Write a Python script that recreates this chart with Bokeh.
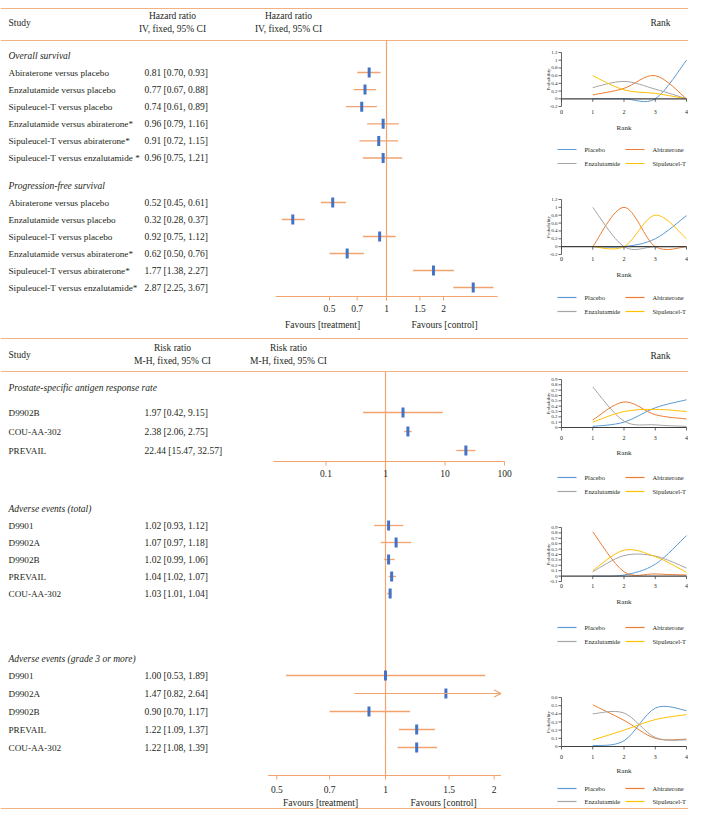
import math
from bokeh.plotting import figure
from bokeh.models import Range1d, LogScale, Arrow, OpenHead
from bokeh.core.properties import value
from bokeh.embed import file_html
from bokeh.resources import INLINE

# ------------------------------------------------------------------ data
os_labels = ["Abiraterone versus placebo", "Enzalutamide versus placebo", "Sipuleucel-T versus placebo",
             "Enzalutamide versus abiraterone*", "Sipuleucel-T versus abiraterone*",
             "Sipuleucel-T versus enzalutamide *"]
os_est = [0.81, 0.77, 0.74, 0.96, 0.91, 0.96]
os_lo = [0.70, 0.67, 0.61, 0.79, 0.72, 0.75]
os_hi = [0.93, 0.88, 0.89, 1.16, 1.15, 1.21]

pfs_labels = ["Abiraterone versus placebo", "Enzalutamide versus placebo", "Sipuleucel-T versus placebo",
              "Enzalutamide versus abiraterone*", "Sipuleucel-T versus abiraterone*",
              "Sipuleucel-T versus enzalutamide*"]
pfs_est = [0.52, 0.32, 0.92, 0.62, 1.77, 2.87]
pfs_lo = [0.45, 0.28, 0.75, 0.50, 1.38, 2.25]
pfs_hi = [0.61, 0.37, 1.12, 0.76, 2.27, 3.67]

psa_labels = ["D9902B", "COU-AA-302", "PREVAIL"]
psa_est = [1.97, 2.38, 22.44]
psa_lo = [0.42, 2.06, 15.47]
psa_hi = [9.15, 2.75, 32.57]

ae_labels = ["D9901", "D9902A", "D9902B", "PREVAIL", "COU-AA-302"]
ae_est = [1.02, 1.07, 1.02, 1.04, 1.03]
ae_lo = [0.93, 0.97, 0.99, 1.02, 1.01]
ae_hi = [1.12, 1.18, 1.06, 1.07, 1.04]

ae3_labels = ["D9901", "D9902A", "D9902B", "PREVAIL", "COU-AA-302"]
ae3_est = [1.00, 1.47, 0.90, 1.22, 1.22]
ae3_lo = [0.53, 0.82, 0.70, 1.09, 1.08]
ae3_hi = [1.89, 2.64, 1.17, 1.37, 1.39]

hr_ticks = [0.5, 0.7, 1, 1.5, 2]
psa_ticks = [0.1, 1, 10, 100]
ae_ticks = [0.5, 0.7, 1, 1.5, 2]

treatments = ["Placebo", "Abiraterone", "Enzalutamide", "Sipuleucel-T"]
ranks = [1, 2, 3, 4]
rank_axis_x = [0, 1, 2, 3, 4]

# rank probabilities: rows = Placebo, Abiraterone, Enzalutamide, Sipuleucel-T
rank_os = [[0.0, 0.0, 0.0, 1.0], [0.10, 0.27, 0.60, 0.0], [0.29, 0.45, 0.25, 0.0], [0.60, 0.23, 0.14, 0.0]]
rank_pfs = [[0.0, 0.0, 0.20, 0.79], [0.0, 1.0, 0.0, 0.0], [1.0, 0.0, 0.0, 0.0], [0.0, 0.0, 0.80, 0.20]]
rank_psa = [[0.02, 0.10, 0.37, 0.52], [0.14, 0.48, 0.24, 0.16], [0.76, 0.12, 0.05, 0.02], [0.10, 0.30, 0.34, 0.30]]
rank_ae = [[0.0, 0.02, 0.22, 0.75], [0.82, 0.08, 0.04, 0.02], [0.08, 0.38, 0.37, 0.15], [0.10, 0.48, 0.36, 0.07]]
rank_ae3 = [[0.01, 0.07, 0.47, 0.44], [0.51, 0.32, 0.10, 0.09], [0.40, 0.41, 0.11, 0.08], [0.08, 0.20, 0.33, 0.39]]

yt_os = [-0.2, 0, 0.2, 0.4, 0.6, 0.8, 1, 1.2]
yt_pfs = [-0.2, 0, 0.2, 0.4, 0.6, 0.8, 1, 1.2]
yt_psa = [0, 0.1, 0.2, 0.3, 0.4, 0.5, 0.6, 0.7, 0.8, 0.9]
yt_ae = [-0.1, 0, 0.1, 0.2, 0.3, 0.4, 0.5, 0.6, 0.7, 0.8, 0.9]
yt_ae3 = [0, 0.1, 0.2, 0.3, 0.4, 0.5, 0.6]

# ------------------------------------------------------------------ style
SERIF = value("Liberation Serif")
FS = "9.5px"
FS_LAB = "9.2px"
ORANGE = "#F2A36E"
SEP = "#F4B183"
BLUE = "#4472C4"
TXT = "#231F20"
SERIES_COL = ["#5B9BD5", "#ED7D31", "#A5A5A5", "#FFC000"]
AX = "#404040"

X0, X1, Y0, Y1 = 0, 688, 0, 809
p = figure(width=X1 - X0, height=Y1 - Y0, x_range=Range1d(X0, X1), y_range=Range1d(Y1, Y0),
           output_backend="svg", toolbar_location=None, x_axis_location=None, y_axis_location=None,
           min_border=0, min_border_left=0, min_border_right=0, min_border_top=0, min_border_bottom=0)
p.grid.visible = False
p.outline_line_color = None
p.background_fill_color = "white"


def txt(x, y, s, size=FS, align="left", style="normal", **kw):
    xs = x if isinstance(x, list) else [x]
    ys = y if isinstance(y, list) else [y]
    ss = s if isinstance(s, list) else [s]
    p.text(x=xs, y=ys, text=ss, text_font=SERIF, text_font_size=size, text_align=align,
           text_baseline="middle", text_color=TXT, text_font_style=style, **kw)


def add_log_range(name, one_px, ppd):
    p.extra_x_ranges[name] = Range1d(10 ** (-(one_px - X0) / ppd), 10 ** ((X1 - one_px) / ppd))
    p.extra_x_scales[name] = LogScale()


def forest(name, labels, est, lo, hi, ys, amax):
    n = len(labels)
    txt([8] * n, ys, labels, size=FS_LAB)
    txt([144] * n, ys, [f"{e:.2f} [{l:.2f}, {h:.2f}]" for e, l, h in zip(est, lo, hi)])
    for l, h, y in zip(lo, hi, ys):
        if h > amax:
            p.add_layout(Arrow(end=OpenHead(size=7, line_color=ORANGE, line_width=1.2),
                               x_start=l, x_end=amax, y_start=y, y_end=y, x_range_name=name,
                               line_color=ORANGE, line_width=1.2))
        else:
            p.segment(x0=[l], x1=[h], y0=[y], y1=[y], x_range_name=name, line_color=ORANGE, line_width=1.3)
    p.rect(x=est, y=ys, width=3, height=10, width_units="screen", height_units="screen",
           x_range_name=name, fill_color=BLUE, line_color=None)


def forest_axis(name, amin, amax, ticks, y, labels_y):
    p.segment(x0=[amin], x1=[amax], y0=[y], y1=[y], x_range_name=name, line_color=ORANGE, line_width=1.2)
    p.segment(x0=ticks, x1=ticks, y0=[y] * len(ticks), y1=[y + 4] * len(ticks), x_range_name=name,
              line_color=ORANGE, line_width=1)
    p.text(x=ticks, y=[labels_y] * len(ticks), text=[f"{t:g}" for t in ticks], x_range_name=name,
           text_font=SERIF, text_font_size=FS, text_align="center", text_baseline="middle", text_color=TXT)


RX0, RX4 = 561, 686   # pixel position of rank 0 and rank 4


def rank_chart(name, data, yticks, top_px, bot_px, xlab_y, rank_y, leg_y, leg_dy=14):
    x_ppu = (RX4 - RX0) / 4
    xs = -(RX0 - X0) / x_ppu
    p.extra_x_ranges[name] = Range1d(xs, xs + (X1 - X0) / x_ppu)
    ymin, ymax = yticks[0], yticks[-1]
    y_ppu = (bot_px - top_px) / (ymax - ymin)
    yb = ymin - (Y1 - bot_px) / y_ppu
    p.extra_y_ranges[name] = Range1d(yb, yb + (Y1 - Y0) / y_ppu)
    kw = dict(x_range_name=name, y_range_name=name)
    # curves (Excel style smoothed lines)
    for vals, col in zip(data, SERIES_COL):
        n = len(ranks)
        b = dict(x0=[], y0=[], x1=[], y1=[], cx0=[], cy0=[], cx1=[], cy1=[])
        for i in range(n - 1):
            xa, ya, xb, yb2 = ranks[i], vals[i], ranks[i + 1], vals[i + 1]
            xm, ym = (ranks[i - 1], vals[i - 1]) if i > 0 else (xa, ya)
            xp, yp = (ranks[i + 2], vals[i + 2]) if i + 2 < n else (xb, yb2)
            b["x0"].append(xa); b["y0"].append(ya); b["x1"].append(xb); b["y1"].append(yb2)
            b["cx0"].append(xa + (xb - xm) / 6); b["cy0"].append(ya + (yb2 - ym) / 6)
            b["cx1"].append(xb - (xp - xa) / 6); b["cy1"].append(yb2 - (yp - ya) / 6)
        p.bezier(line_color=col, line_width=1.0, **b, **kw)
    # axes
    p.segment(x0=[0], x1=[0], y0=[ymin], y1=[ymax], line_color=AX, line_width=0.8, **kw)
    p.segment(x0=[-3 / x_ppu] * len(yticks), x1=[0] * len(yticks), y0=yticks, y1=yticks,
              line_color=AX, line_width=0.8, **kw)
    p.segment(x0=[0], x1=[4], y0=[0], y1=[0], line_color=AX, line_width=1.2, **kw)
    p.segment(x0=rank_axis_x, x1=rank_axis_x, y0=[0] * 5, y1=[-3 / y_ppu] * 5, line_color=AX,
              line_width=0.8, **kw)
    p.text(x=[RX0 - 4] * len(yticks), y=yticks, text=[f"{t:g}" for t in yticks], y_range_name=name,
           text_font=SERIF, text_font_size="5px", text_align="right", text_baseline="middle", text_color=TXT)
    p.text(x=[RX0 - 13], y=[(ymin + ymax) / 2], text=["Probability"], y_range_name=name, angle=math.pi / 2,
           text_font=SERIF, text_font_size="5px", text_align="center", text_baseline="middle", text_color=TXT)
    p.text(x=rank_axis_x, y=[xlab_y] * 5, text=[str(v) for v in rank_axis_x], x_range_name=name,
           text_font=SERIF, text_font_size="6px", text_align="center", text_baseline="middle", text_color=TXT)
    p.text(x=[2], y=[rank_y], text=["Rank"], x_range_name=name,
           text_font=SERIF, text_font_size="7px", text_align="center", text_baseline="middle", text_color=TXT)
    # legend
    for k, (lab, col) in enumerate(zip(treatments, SERIES_COL)):
        lx = 557 if k % 2 == 0 else 625
        ly = leg_y + (k // 2) * leg_dy
        p.segment(x0=[lx], x1=[lx + 19], y0=[ly], y1=[ly], line_color=col, line_width=1.2)
        txt(lx + 27, ly, lab, size="6.5px")


# ------------------------------------------------------------------ section 1 (hazard ratios)
for y in [8, 40, 338, 371, 808]:
    p.segment(x0=[X0], x1=[X1], y0=[y], y1=[y], line_color=SEP, line_width=1.2)

txt(8, 22, "Study")
txt(172, 15, "Hazard ratio", align="center")
txt(172, 28, "IV, fixed, 95% CI", align="center")
txt(288, 15, "Hazard ratio", align="center")
txt(288, 28, "IV, fixed, 95% CI", align="center")
txt(660, 22, "Rank", align="center")

add_log_range("hr", 386, 189.4)
p.segment(x0=[1], x1=[1], y0=[40], y1=[300], x_range_name="hr", line_color=ORANGE, line_width=1.2)

txt(8, 55, "Overall survival", style="italic")
forest("hr", os_labels, os_est, os_lo, os_hi, [72 + 17.1 * i for i in range(6)], 3.86)
txt(8, 185, "Progression-free survival", style="italic")
forest("hr", pfs_labels, pfs_est, pfs_lo, pfs_hi, [202 + 17 * i for i in range(6)], 3.86)
forest_axis("hr", 0.26, 3.86, hr_ticks, 296, 308)
txt(322, 324, "Favours [treatment]", align="center")
txt(444, 324, "Favours [control]", align="center")

rank_chart("r1", rank_os, yt_os, 52, 106, 111, 127, 149)
rank_chart("r2", rank_pfs, yt_pfs, 199, 254, 258, 274, 297)

# ------------------------------------------------------------------ section 2 (risk ratios)
txt(8, 354, "Study")
txt(172, 347, "Risk ratio", align="center")
txt(172, 360, "M-H, fixed, 95% CI", align="center")
txt(288, 347, "Risk ratio", align="center")
txt(288, 360, "M-H, fixed, 95% CI", align="center")
txt(660, 355, "Rank", align="center")

add_log_range("psa", 385, 59.5)
add_log_range("ae", 385, 361)
p.segment(x0=[1], x1=[1], y0=[371], y1=[775], x_range_name="ae", line_color=ORANGE, line_width=1.2)

txt(8, 387, "Prostate-specific antigen response rate", style="italic")
forest("psa", psa_labels, psa_est, psa_lo, psa_hi, [412 + 19 * i for i in range(3)], 100)
forest_axis("psa", 0.013, 100, psa_ticks, 461, 473)

txt(8, 508, "Adverse events (total)", style="italic")
forest("ae", ae_labels, ae_est, ae_lo, ae_hi, [525 + 17 * i for i in range(5)], 2.09)
txt(8, 658, "Adverse events (grade 3 or more)", style="italic")
forest("ae", ae3_labels, ae3_est, ae3_lo, ae3_hi, [675 + 18 * i for i in range(5)], 2.09)
forest_axis("ae", 0.473, 2.09, ae_ticks, 775, 789)
txt(320, 802, "Favours [treatment]", align="center")
txt(443, 802, "Favours [control]", align="center")

rank_chart("r3", rank_psa, yt_psa, 379, 427, 437, 452, 477)
rank_chart("r4", rank_ae, yt_ae, 527, 581, 585, 601, 627)
rank_chart("r5", rank_ae3, yt_ae3, 697, 746, 756, 770, 788, leg_dy=13)

open("out.html", "w").write(file_html(p, INLINE))
